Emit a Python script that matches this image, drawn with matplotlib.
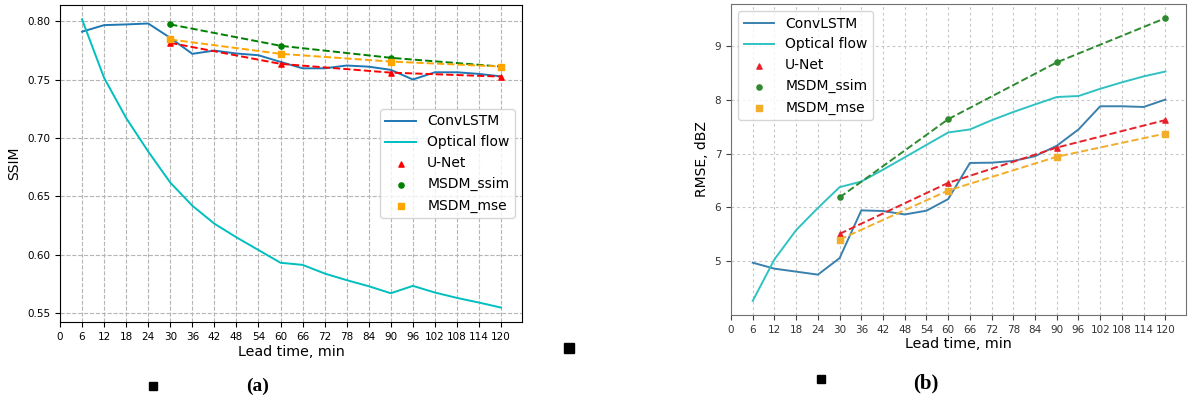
import matplotlib
matplotlib.use('Agg')
import matplotlib.pyplot as plt
from matplotlib.patches import Rectangle

# lead times (min)
lead = [6, 12, 18, 24, 30, 36, 42, 48, 54, 60, 66, 72, 78, 84, 90, 96, 102, 108, 114, 120]
lead_m = [30, 60, 90, 120]
xticks = list(range(0, 121, 6))

# (a) SSIM
ssim_convlstm = [0.791, 0.7966, 0.7972, 0.798, 0.7857, 0.772, 0.7748, 0.7723, 0.7708, 0.7651,
                 0.7596, 0.7596, 0.762, 0.761, 0.7583, 0.750, 0.7562, 0.7562, 0.7548, 0.7527]
ssim_optical = [0.8015, 0.7514, 0.717, 0.6883, 0.6617, 0.6419, 0.6265, 0.6148, 0.6039, 0.593,
                0.5912, 0.5838, 0.5781, 0.5729, 0.5669, 0.5732, 0.5675, 0.5629, 0.5589, 0.5546]
ssim_unet = [0.7814, 0.7634, 0.7559, 0.7525]
ssim_msdm_ssim = [0.7972, 0.7789, 0.7686, 0.7611]
ssim_msdm_mse = [0.7843, 0.772, 0.7654, 0.7611]

# (b) RMSE
rmse_convlstm = [4.976, 4.865, 4.81, 4.754, 5.06, 5.946, 5.934, 5.87, 5.94, 6.155,
                 6.825, 6.83, 6.862, 6.95, 7.144, 7.446, 7.876, 7.876, 7.863, 8.0]
rmse_optical = [4.268, 5.037, 5.58, 5.99, 6.376, 6.48, 6.70, 6.93, 7.16, 7.39,
                7.446, 7.617, 7.77, 7.91, 8.047, 8.066, 8.2, 8.32, 8.43, 8.52]
rmse_unet = [5.51, 6.456, 7.11, 7.62]
rmse_msdm_ssim = [6.186, 7.636, 8.69, 9.51]
rmse_msdm_mse = [5.405, 6.314, 6.94, 7.37]

W, H = 1192, 401
fig = plt.figure(figsize=(W / 100, H / 100), dpi=100)


def panel(ax, conv, opt, unet, mss, mse, cols, ylabel, grid_kw, legend_loc):
    ax.plot(lead, conv, color=cols[0], lw=1.4, label='ConvLSTM')
    ax.plot(lead, opt, color=cols[1], lw=1.4, label='Optical flow')
    ax.plot(lead_m, unet, '--', color=cols[2], lw=1.4)
    ax.scatter(lead_m, unet, marker='^', s=14, color=cols[2], label='U-Net', zorder=3)
    ax.plot(lead_m, mss, '--', color=cols[3], lw=1.4)
    ax.scatter(lead_m, mss, marker='o', s=14, color=cols[3], label='MSDM_ssim', zorder=3)
    ax.plot(lead_m, mse, '--', color=cols[4], lw=1.4)
    ax.scatter(lead_m, mse, marker='s', s=14, color=cols[4], label='MSDM_mse', zorder=3)
    ax.set_xticks(xticks)
    ax.tick_params(labelsize=7.5)
    ax.grid(True, **grid_kw)
    ax.set_axisbelow(True)
    ax.set_xlabel('Lead time, min', fontsize=10.3, labelpad=2)
    ax.set_ylabel(ylabel, fontsize=10, labelpad=4)
    ax.legend(loc=legend_loc, fontsize=10, handlelength=2.2, borderaxespad=0.5)


ax1 = fig.add_axes([60 / W, 1 - 322 / H, 462 / W, 317 / H])
panel(ax1, ssim_convlstm, ssim_optical, ssim_unet, ssim_msdm_ssim, ssim_msdm_mse,
      ['#1f77b4', '#00bfbf', 'red', 'green', 'orange'], 'SSIM',
      dict(linestyle='--', color='#b5b5b5', linewidth=0.8), 'center right')

ax2 = fig.add_axes([731 / W, 1 - 315 / H, 455 / W, 311 / H])
panel(ax2, rmse_convlstm, rmse_optical, rmse_unet, rmse_msdm_ssim, rmse_msdm_mse,
      ['#3a80ad', '#30c2c2', '#e8202a', '#2f8a2f', '#f2ad2a'], 'RMSE, dBZ',
      dict(linestyle=(0, (2.5, 2.5)), color='#c8c8c8', linewidth=0.8), 'upper left')
for s in ax2.spines.values():
    s.set_color('#707070')
ax2.tick_params(colors='#404040', labelcolor='#333333')

# panel labels
fig.text(258 / W, 1 - 386 / H, '(a)', ha='center', va='center', fontsize=14,
         fontweight='bold', family='Liberation Serif')
fig.text(926 / W, 1 - 383 / H, '(b)', ha='center', va='center', fontsize=15,
         fontweight='bold', family='Liberation Serif')

# stray small squares from the source page
for cx, cy, sz in [(153, 386, 8), (569, 348, 10), (821, 379, 8)]:
    fig.add_artist(Rectangle(((cx - sz / 2) / W, 1 - (cy + sz / 2) / H), sz / W, sz / H,
                             transform=fig.transFigure, color='black'))

fig.savefig('out.png', dpi=100)
